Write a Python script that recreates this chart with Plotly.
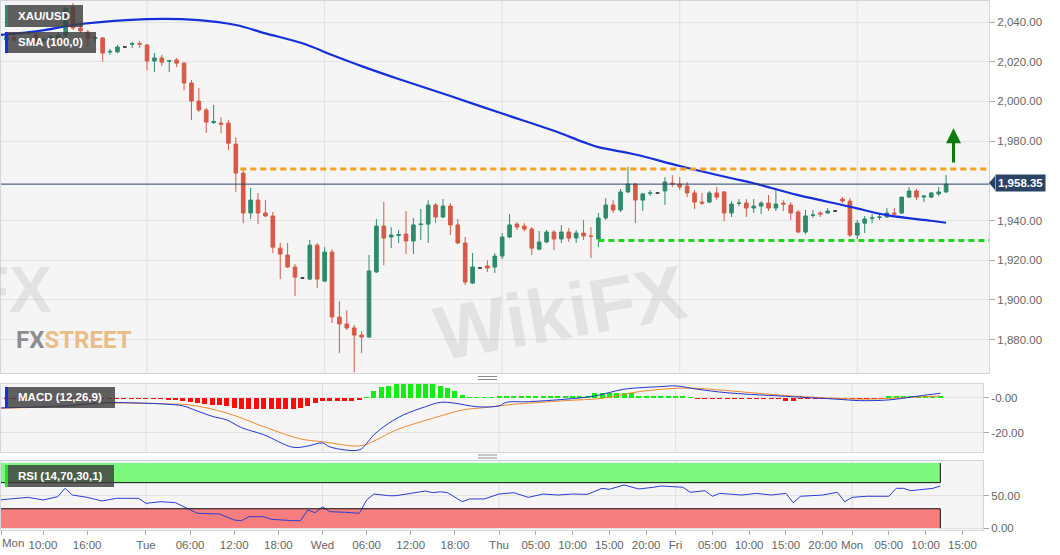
import plotly.graph_objects as go

# ---------------- data ----------------
candle_idx = list(range(129))  # hourly candles, 0 = Mon 04:00
opens = [2029.7, 2031.0, 2032.4, 2034.3, 2034.4, 2033.5, 2030.6, 2032.3, 2031.9, 2033.5,
         2047.5, 2037.0, 2035.0, 2031.8, 2032.0, 2024.9, 2025.0, 2027.4, 2028.8, 2029.1,
         2028.4, 2020.4, 2021.9, 2020.3, 2020.9, 2019.3, 2009.3, 2000.2, 1995.7, 1989.4,
         1989.1, 1989.1, 1978.5, 1963.9, 1943.8, 1950.3, 1943.8, 1942.3, 1926.1, 1922.6,
         1916.6, 1911.0, 1910.5, 1927.6, 1909.5, 1924.1, 1891.4, 1887.9, 1885.9, 1882.3,
         1881.3, 1914.1, 1937.2, 1931.7, 1932.5, 1933.2, 1929.7, 1938.0, 1938.2, 1947.8,
         1941.8, 1947.3, 1937.8, 1928.7, 1908.5, 1916.1, 1917.1, 1916.6, 1922.1, 1931.7,
         1938.2, 1937.2, 1935.7, 1925.6, 1929.2, 1934.2, 1930.7, 1934.2, 1931.2, 1933.7,
         1932.2, 1930.7, 1941.3, 1947.8, 1945.3, 1954.4, 1958.4, 1950.3, 1953.7, 1953.9,
         1954.9, 1958.9, 1958.4, 1957.4, 1953.9, 1949.3, 1949.3, 1953.9, 1954.4, 1943.8,
         1948.6, 1948.8, 1946.3, 1947.3, 1948.8, 1946.3, 1948.8, 1947.8, 1944.3, 1934.2,
         1942.6, 1943.8, 1943.8, 1944.8, 1950.8, 1949.8, 1932.7, 1938.7, 1941.1, 1941.6,
         1941.8, 1943.8, 1943.8, 1951.8, 1954.9, 1951.8, 1951.8, 1953.4, 1954.4]
highs = [2030.5, 2034.0, 2034.5, 2035.2, 2035.3, 2034.5, 2032.5, 2033.3, 2035.0, 2048.0,
         2049.5, 2039.5, 2036.0, 2033.0, 2032.5, 2026.5, 2028.5, 2027.4, 2030.0, 2030.5,
         2029.0, 2024.4, 2023.4, 2020.9, 2021.9, 2019.8, 2010.8, 2006.8, 1996.7, 1998.2,
         1992.0, 1990.6, 1982.0, 1965.4, 1956.4, 1953.9, 1950.3, 1944.3, 1928.7, 1928.7,
         1918.1, 1911.0, 1930.2, 1928.7, 1926.6, 1925.6, 1899.4, 1894.9, 1887.4, 1884.3,
         1922.6, 1940.8, 1949.3, 1936.7, 1935.2, 1944.8, 1941.3, 1945.8, 1950.3, 1948.8,
         1950.8, 1948.8, 1940.8, 1931.7, 1923.6, 1916.1, 1920.0, 1923.6, 1933.7, 1943.3,
         1939.2, 1938.7, 1936.7, 1934.7, 1935.2, 1935.2, 1937.7, 1936.2, 1935.2, 1940.3,
         1936.7, 1943.8, 1951.3, 1950.3, 1955.9, 1967.0, 1958.9, 1953.9, 1955.4, 1953.9,
         1961.9, 1962.9, 1961.9, 1959.4, 1955.4, 1953.9, 1954.9, 1956.9, 1954.9, 1949.8,
         1950.8, 1950.8, 1950.8, 1949.8, 1952.9, 1956.4, 1950.3, 1949.3, 1945.3, 1945.3,
         1945.3, 1944.8, 1946.3, 1944.8, 1951.8, 1951.3, 1940.3, 1942.3, 1943.3, 1943.8,
         1946.3, 1946.3, 1951.8, 1956.9, 1955.9, 1952.9, 1954.4, 1956.9, 1962.9]
lows = [2028.5, 2030.0, 2029.9, 2033.5, 2033.6, 2028.8, 2029.8, 2031.4, 2030.9, 2032.0,
        2036.0, 2034.5, 2027.4, 2030.0, 2020.0, 2023.5, 2024.3, 2027.4, 2027.0, 2027.0,
        2015.8, 2014.8, 2017.8, 2014.8, 2017.3, 2005.7, 1990.6, 1994.7, 1984.1, 1988.6,
        1984.0, 1975.5, 1954.4, 1938.7, 1940.8, 1938.2, 1941.8, 1923.6, 1910.5, 1916.1,
        1902.0, 1911.0, 1910.0, 1906.0, 1909.0, 1888.4, 1873.3, 1884.8, 1863.5, 1873.3,
        1880.8, 1913.6, 1917.6, 1926.1, 1928.7, 1923.1, 1923.1, 1930.2, 1928.7, 1938.7,
        1941.3, 1932.7, 1928.2, 1907.5, 1908.0, 1916.1, 1914.0, 1913.6, 1920.6, 1931.2,
        1935.2, 1934.7, 1922.6, 1925.1, 1928.7, 1925.1, 1928.7, 1929.2, 1928.7, 1930.2,
        1921.1, 1926.6, 1940.3, 1943.8, 1944.3, 1953.9, 1938.7, 1944.8, 1952.4, 1953.9,
        1947.8, 1956.9, 1955.4, 1951.8, 1945.8, 1947.8, 1948.8, 1950.3, 1939.7, 1941.8,
        1947.3, 1941.8, 1943.8, 1943.3, 1944.8, 1944.8, 1944.8, 1940.3, 1933.7, 1933.2,
        1941.3, 1941.8, 1943.3, 1944.8, 1948.8, 1931.7, 1930.7, 1933.7, 1938.7, 1940.3,
        1941.3, 1942.8, 1943.3, 1951.3, 1950.3, 1949.3, 1951.3, 1952.4, 1953.9]
closes = [2029.3, 2032.5, 2030.9, 2034.6, 2034.6, 2029.4, 2031.2, 2032.5, 2033.5, 2047.0,
          2037.0, 2035.5, 2032.0, 2032.1, 2024.4, 2025.2, 2027.4, 2027.4, 2029.1, 2028.9,
          2020.4, 2021.9, 2019.8, 2020.5, 2019.3, 2009.3, 2000.2, 1995.7, 1989.6, 1989.8,
          1988.6, 1979.0, 1963.9, 1943.8, 1950.3, 1943.8, 1942.3, 1926.6, 1923.1, 1916.6,
          1911.5, 1911.0, 1927.6, 1910.5, 1924.1, 1891.4, 1887.9, 1885.9, 1882.3, 1881.3,
          1914.6, 1937.2, 1931.2, 1932.7, 1932.9, 1929.7, 1937.8, 1938.2, 1947.8, 1941.8,
          1947.3, 1937.8, 1928.7, 1909.0, 1916.6, 1916.1, 1916.1, 1922.1, 1931.7, 1937.8,
          1936.7, 1935.7, 1926.1, 1929.2, 1934.2, 1930.7, 1934.2, 1931.2, 1933.7, 1932.2,
          1932.0, 1941.3, 1947.8, 1945.3, 1954.4, 1958.4, 1950.3, 1953.4, 1953.9, 1953.9,
          1959.4, 1958.4, 1956.9, 1953.9, 1949.3, 1948.8, 1953.9, 1951.8, 1943.8, 1948.3,
          1948.8, 1946.3, 1947.3, 1948.8, 1946.3, 1948.3, 1948.3, 1943.8, 1934.2, 1942.3,
          1942.8, 1943.3, 1944.8, 1944.8, 1949.8, 1932.7, 1938.7, 1940.8, 1941.3, 1941.8,
          1943.8, 1943.3, 1951.8, 1954.9, 1951.8, 1952.3, 1953.9, 1954.4, 1958.35]

sma_x = [0, 5, 11, 20, 27, 32, 36, 41, 45, 49, 54, 61, 68, 75, 79, 81, 86, 92, 99, 102,
         108, 115, 120, 126, 128]
sma_v = [2033.5, 2035.3, 2039.0, 2041.5, 2041.0, 2038.5, 2034.3, 2029.3, 2023.4, 2017.8,
         2011.3, 2002.7, 1993.9, 1985.2, 1979.5, 1977.0, 1973.3, 1967.5, 1961.3, 1958.8,
         1952.8, 1947.0, 1942.7, 1939.9, 1938.9]

macd_x = [0, 9, 14, 20, 23, 25, 27, 29, 31, 33, 36, 40, 42, 44, 45, 49, 50, 51, 53, 55,
          58, 60, 62, 65, 68, 69, 72, 77, 81, 85, 90, 92, 95, 99, 108, 114, 117, 121, 125, 128]
macd_v = [-5.7, -4.5, -2.7, -3.0, -3.6, -4.5, -7.5, -10.5, -12.6, -17.0, -21.0, -28.2, -27.5,
          -25.7, -28.0, -29.7, -26.0, -21.0, -14.5, -9.7, -5.0, -2.5, -3.0, -5.0, -4.5, -2.5,
          -2.1, -0.7, 1.1, 5.0, 6.5, 6.9, 5.0, 3.0, 0.7, -0.7, -1.5, -1.1, 1.1, 2.7]
signal_x = [0, 9, 14, 20, 23, 26, 31, 36, 41, 44, 49, 51, 54, 59, 63, 66, 70, 72, 77, 82,
            87, 92, 95, 99, 108, 114, 118, 124, 128]
signal_v = [-5.9, -4.7, -3.0, -3.1, -3.4, -4.0, -8.6, -16.4, -23.4, -25.0, -27.4, -24.6,
            -18.3, -11.6, -6.9, -5.5, -3.6, -3.0, -1.5, -0.2, 3.6, 5.5, 5.5, 4.2, 1.1, -0.2,
            -0.7, 0.4, 1.1]
hist_v = [-0.6, -0.6, -0.6, -0.6, -0.6, -0.6, -0.6, -0.6, -0.6, -0.6,
          -0.6, -0.6, -0.6, -0.6, -0.6, -0.6, -0.6, -0.6, -0.6, -0.6,
          -0.8, -0.8, -0.8, -1.0, -1.2, -1.5, -2.5, -3.0, -3.5, -4.0,
          -4.0, -4.5, -5.5, -6.3, -6.3, -6.3, -6.3, -6.3, -6.3, -6.3,
          -6.3, -5.5, -4.6, -3.0, -1.5, -1.5, -1.5, -1.5, -1.5, -1.2,
          0.7, 4.2, 6.1, 7.0, 7.8, 7.8, 7.8, 7.8, 7.8, 7.8,
          7.0, 5.5, 4.2, 1.7, 0.7, 0.7, 0.7, 0.7, 1.2, 1.2,
          1.2, 1.1, 1.1, 1.1, 1.1, 1.1, 1.1, 1.1, 1.1, 1.1,
          1.1, 2.7, 2.7, 2.7, 2.7, 2.7, 2.7, 1.1, 1.1, 1.1,
          1.1, 1.1, 1.1, 1.1, 0.3, -0.5, -0.5, -0.8, -0.8, -0.8,
          -0.8, -0.8, -0.8, -0.8, -0.8, -0.8, -0.8, -1.5, -1.5, -0.8,
          -0.8, -0.8, -0.8, -0.5, -0.5, -0.5, -0.5, -0.5, -0.5, -0.5,
          -0.5, 1.0, 1.0, 1.0, 1.0, 1.0, 1.0, 1.0, 1.0]

rsi_x = [0, 2, 4, 6, 8, 9, 10, 12, 14, 16, 19, 20, 22, 24, 26, 27, 30, 32, 33, 34,
         36, 37, 40, 41, 42, 43, 44, 45, 47, 49, 50, 51, 53, 54, 56, 58, 59, 60, 61, 63,
         64, 66, 68, 70, 71, 72, 74, 76, 78, 80, 82, 83, 85, 87, 89, 90, 93, 94, 96, 97,
         98, 101, 103, 105, 107, 108, 109, 112, 114, 115, 116, 118, 121, 122, 123, 124, 127, 128]
rsi_v = [43.4, 46, 47.5, 43.4, 48.5, 61.3, 51, 47.5, 41.9, 46, 46, 38.3, 40.8, 39.3, 28, 23,
         22, 12.7, 11.7, 17.8, 17.8, 13.8, 11.7, 11.7, 28, 24, 33, 25.5, 24.6, 23,
         43.4, 52.6, 50, 50, 53.6, 57.2, 54.6, 56, 54.6, 40.8, 45, 45, 52.6, 54.6, 51,
         47.5, 52.6, 51, 52.6, 52, 61.3, 59.8, 66.4, 60.3, 62.9, 64.9, 62.9, 55.2, 57.7,
         49.1, 53.6, 51, 53.6, 51, 53.6, 39.3, 49.1, 51, 55.2, 40.8, 47.5, 49.1, 49.1,
         61.3, 61.3, 57.7, 61.3, 64.9]

resistance_level = 1966.0
support_level = 1930.0
last_price = 1958.35
rsi_overbought = 70
rsi_oversold = 30

tick_pos = [0.3, 6, 12, 20, 26, 32, 38, 44, 50, 56, 62, 68, 73, 78, 83, 88, 92, 97, 102,
            107, 112, 116, 121, 126, 131]
tick_text = ["", "10:00", "16:00", "Tue", "06:00", "12:00", "18:00", "Wed", "06:00", "12:00",
             "18:00", "Thu", "05:00", "10:00", "15:00", "20:00", "Fri", "05:00", "10:00",
             "15:00", "20:00", "Mon", "05:00", "10:00", "15:00"]
first_day_label = "Mon"
day_starts = [20, 44, 68, 92, 116]
price_ticks = [1880, 1900, 1920, 1940, 1980, 2000, 2020, 2040]

# ---------------- styling / geometry ----------------
W, H = 1060, 555
PL, PR, PT, PB = 1, 989, 1, 530
def px_x(p):
    return (p - PL) / (PR - PL)
def px_y(p):
    return (PB - p) / (PB - PT)

GREEN_C = "#2f8a6c"
RED_C = "#d65a47"
FONT = "Liberation Sans, Arial, sans-serif"
XR_MAIN = [0.26, 133.8]
XR_LOW = [0.29, 133.8]

flat = [i for i in candle_idx if opens[i] == highs[i] == lows[i] == closes[i]]
norm = [i for i in candle_idx if i not in flat]

fig = go.Figure()
fig.add_trace(go.Candlestick(
    x=[candle_idx[i] for i in norm], open=[opens[i] for i in norm],
    high=[highs[i] for i in norm], low=[lows[i] for i in norm],
    close=[closes[i] for i in norm],
    increasing=dict(line=dict(color=GREEN_C, width=1), fillcolor=GREEN_C),
    decreasing=dict(line=dict(color=RED_C, width=1), fillcolor=RED_C),
    whiskerwidth=0, hoverinfo="skip", xaxis="x", yaxis="y"))
fig.add_trace(go.Candlestick(
    x=[candle_idx[i] for i in flat], open=[opens[i] for i in flat],
    high=[highs[i] for i in flat], low=[lows[i] for i in flat],
    close=[closes[i] for i in flat],
    increasing=dict(line=dict(color="#111111", width=1.5), fillcolor="#111111"),
    decreasing=dict(line=dict(color="#111111", width=1.5), fillcolor="#111111"),
    whiskerwidth=0, hoverinfo="skip", xaxis="x", yaxis="y"))
fig.add_trace(go.Scatter(x=sma_x, y=sma_v, mode="lines", line=dict(color="#1530d8", width=2.2, shape="spline"),
                         hoverinfo="skip", xaxis="x", yaxis="y"))

# MACD panel
fig.add_trace(go.Bar(x=candle_idx, y=hist_v, width=0.68,
                     marker=dict(color=["#11ee11" if v > 0 else "#ff0a0a" for v in hist_v], line=dict(width=0)),
                     hoverinfo="skip", xaxis="x2", yaxis="y2"))
fig.add_trace(go.Scatter(x=signal_x, y=signal_v, mode="lines", line=dict(color="#f08a2a", width=1, shape="spline"),
                         hoverinfo="skip", xaxis="x2", yaxis="y2"))
fig.add_trace(go.Scatter(x=macd_x, y=macd_v, mode="lines", line=dict(color="#2236d0", width=1, shape="spline"),
                         hoverinfo="skip", xaxis="x2", yaxis="y2"))

# RSI panel
fig.add_trace(go.Scatter(x=rsi_x, y=rsi_v, mode="lines", line=dict(color="#2a3ed0", width=1),
                         hoverinfo="skip", xaxis="x3", yaxis="y3"))

shapes = []
# day grid lines
for d in day_starts:
    for xr, yr in (("x", "y domain"), ("x2", "y2 domain"), ("x3", "y3 domain")):
        shapes.append(dict(type="line", xref=xr, yref=yr, x0=d, x1=d, y0=0, y1=1,
                           line=dict(color="#e1e1e1", width=1), layer="below"))
# RSI bands
shapes.append(dict(type="rect", xref="x3", yref="y3", x0=XR_LOW[0], x1=candle_idx[-1], y0=rsi_overbought, y1=100,
                   fillcolor="#7ef77e", line=dict(width=0), layer="below"))
shapes.append(dict(type="rect", xref="x3", yref="y3", x0=XR_LOW[0], x1=candle_idx[-1], y0=0, y1=rsi_oversold,
                   fillcolor="#f77e7e", line=dict(width=0), layer="below"))
for yv in (rsi_overbought, rsi_oversold):
    shapes.append(dict(type="line", xref="x3", yref="y3", x0=XR_LOW[0], x1=candle_idx[-1], y0=yv, y1=yv,
                       line=dict(color="#111", width=1)))
shapes.append(dict(type="line", xref="x3", yref="y3", x0=candle_idx[-1], x1=candle_idx[-1], y0=rsi_overbought, y1=100,
                   line=dict(color="#111", width=1)))
shapes.append(dict(type="line", xref="x3", yref="y3", x0=candle_idx[-1], x1=candle_idx[-1], y0=0, y1=rsi_oversold,
                   line=dict(color="#111", width=1)))
# price line and levels
shapes.append(dict(type="line", xref="x domain", yref="y", x0=0, x1=1, y0=last_price, y1=last_price,
                   line=dict(color="#2b4465", width=1)))
shapes.append(dict(type="line", xref="x", yref="y", x0=32.6, x1=XR_MAIN[1], y0=resistance_level, y1=resistance_level,
                   line=dict(color="#f5a11e", width=3, dash="6px,4px")))
shapes.append(dict(type="line", xref="x", yref="y", x0=81, x1=XR_MAIN[1], y0=support_level, y1=support_level,
                   line=dict(color="#22d422", width=3, dash="6px,4px")))
# price label pointer
shapes.append(dict(type="path", xref="paper", yref="paper",
                   path=f"M {px_x(989)} {px_y(183)} L {px_x(995)} {px_y(176)} L {px_x(995)} {px_y(190)} Z",
                   fillcolor="#2b4465", line=dict(width=0)))
# splitter handles
for yy in (376.5, 379.5, 455, 458):
    shapes.append(dict(type="line", xref="paper", yref="paper", x0=px_x(478), x1=px_x(497),
                       y0=px_y(yy), y1=px_y(yy), line=dict(color="#8a8a8a", width=1)))
# legend boxes
legend_boxes = [("XAU/USD", 5, 83, 5, 27, GREEN_C), ("SMA (100,0)", 5, 96, 32, 53, "#1530e8"),
                ("MACD (12,26,9)", 5, 115, 387, 408, "#1530e8"), ("RSI (14,70,30,1)", 5, 114, 465, 487, "#22e022")]
annotations = []
for txt, x0, x1, y0, y1, col in legend_boxes:
    shapes.append(dict(type="rect", xref="paper", yref="paper", x0=px_x(x0), x1=px_x(x1), y0=px_y(y1), y1=px_y(y0),
                       fillcolor="rgba(62,62,62,0.82)", line=dict(width=0)))
    shapes.append(dict(type="rect", xref="paper", yref="paper", x0=px_x(x0), x1=px_x(x0 + 3), y0=px_y(y1), y1=px_y(y0),
                       fillcolor=col, line=dict(width=0)))
    annotations.append(dict(xref="paper", yref="paper", x=px_x(16), y=px_y((y0 + y1) / 2), xanchor="left",
                            yanchor="middle", text=f"<b>{txt}</b>", showarrow=False,
                            font=dict(family=FONT, size=11.5, color="white")))

# watermarks
annotations.append(dict(xref="paper", yref="paper", x=px_x(560), y=px_y(312), text="<b>WikiFX</b>", showarrow=False,
                        textangle=-10, font=dict(family=FONT, size=76, color="rgba(175,175,175,0.26)")))
annotations.append(dict(xref="paper", yref="paper", x=px_x(54), y=px_y(290), xanchor="right", text="<b>FX</b>",
                        showarrow=False, font=dict(family=FONT, size=64, color="rgba(175,175,175,0.28)")))
annotations.append(dict(xref="paper", yref="paper", x=px_x(14), y=px_y(340), xanchor="left", yanchor="middle",
                        text="<b><span style='color:#8d8d8d'>FX</span><span style='color:#ebbd86'>STREET</span></b>",
                        showarrow=False, font=dict(family="Liberation Sans Narrow, Roboto, sans-serif", size=24)))
# price label
annotations.append(dict(xref="paper", yref="paper", x=px_x(995), y=px_y(183), xanchor="left", yanchor="middle",
                        text=f"<b>{last_price:,.2f}</b>", showarrow=False, bgcolor="#2b4465", borderpad=2,
                        font=dict(family=FONT, size=11.5, color="white")))
# up arrow
annotations.append(dict(xref="x", yref="y", axref="x", ayref="y", x=129, y=1986.5, ax=129, ay=1968.5, text="",
                        showarrow=True, arrowhead=2, arrowsize=1, arrowwidth=3, arrowcolor="#0e7d0e"))
# first day label
annotations.append(dict(xref="paper", yref="paper", x=px_x(0), y=px_y(543), xanchor="left", yanchor="middle",
                        text=first_day_label, showarrow=False, font=dict(family=FONT, size=11.5, color="#666")))

axis_common = dict(showline=True, mirror=True, linecolor="#d3d6de", linewidth=1, zeroline=False)
fig.update_layout(
    width=W, height=H, margin=dict(l=PL, r=W - PR, t=PT, b=H - PB),
    paper_bgcolor="white", plot_bgcolor="#f5f5f5", showlegend=False,
    font=dict(family=FONT, size=11.5, color="#666"),
    xaxis=dict(domain=[0, 1], range=XR_MAIN, anchor="y", showticklabels=False, showgrid=False,
               rangeslider=dict(visible=False), ticks="", **axis_common),
    yaxis=dict(domain=[px_y(373), 1], range=[1863.2, 2050.6], anchor="x", side="right", tickvals=price_ticks,
               tickformat=",.2f", ticks="outside", ticklen=5, tickcolor="#aaa", gridcolor="#e3e3e3", **axis_common),
    xaxis2=dict(domain=[0, px_x(983)], range=XR_LOW, anchor="y2", showticklabels=False, showgrid=False,
                ticks="", **axis_common),
    yaxis2=dict(domain=[px_y(452), px_y(384)], range=[-30.9, 8.0], anchor="x2", side="right", tickvals=[0, -20],
                ticktext=["-0.00", "-20.00"], ticks="outside", ticklen=5, tickcolor="#aaa", gridcolor="#e3e3e3",
                **axis_common),
    xaxis3=dict(domain=[0, px_x(983)], range=XR_LOW, anchor="y3", tickvals=tick_pos, ticktext=tick_text,
                ticks="outside", ticklen=4, tickcolor="#aaa", showgrid=False, tickangle=0, **axis_common),
    yaxis3=dict(domain=[0, px_y(461)], range=[-2.6, 103.2], anchor="x3", side="right", tickvals=[0, 50],
                tickformat=".2f", ticks="outside", ticklen=5, tickcolor="#aaa", gridcolor="#e3e3e3", **axis_common),
    shapes=shapes, annotations=annotations, bargap=0,
)

fig.write_html("out.html", config={"displayModeBar": False, "staticPlot": True},
               post_script="document.body.style.margin='0';document.body.style.overflow='hidden';")
